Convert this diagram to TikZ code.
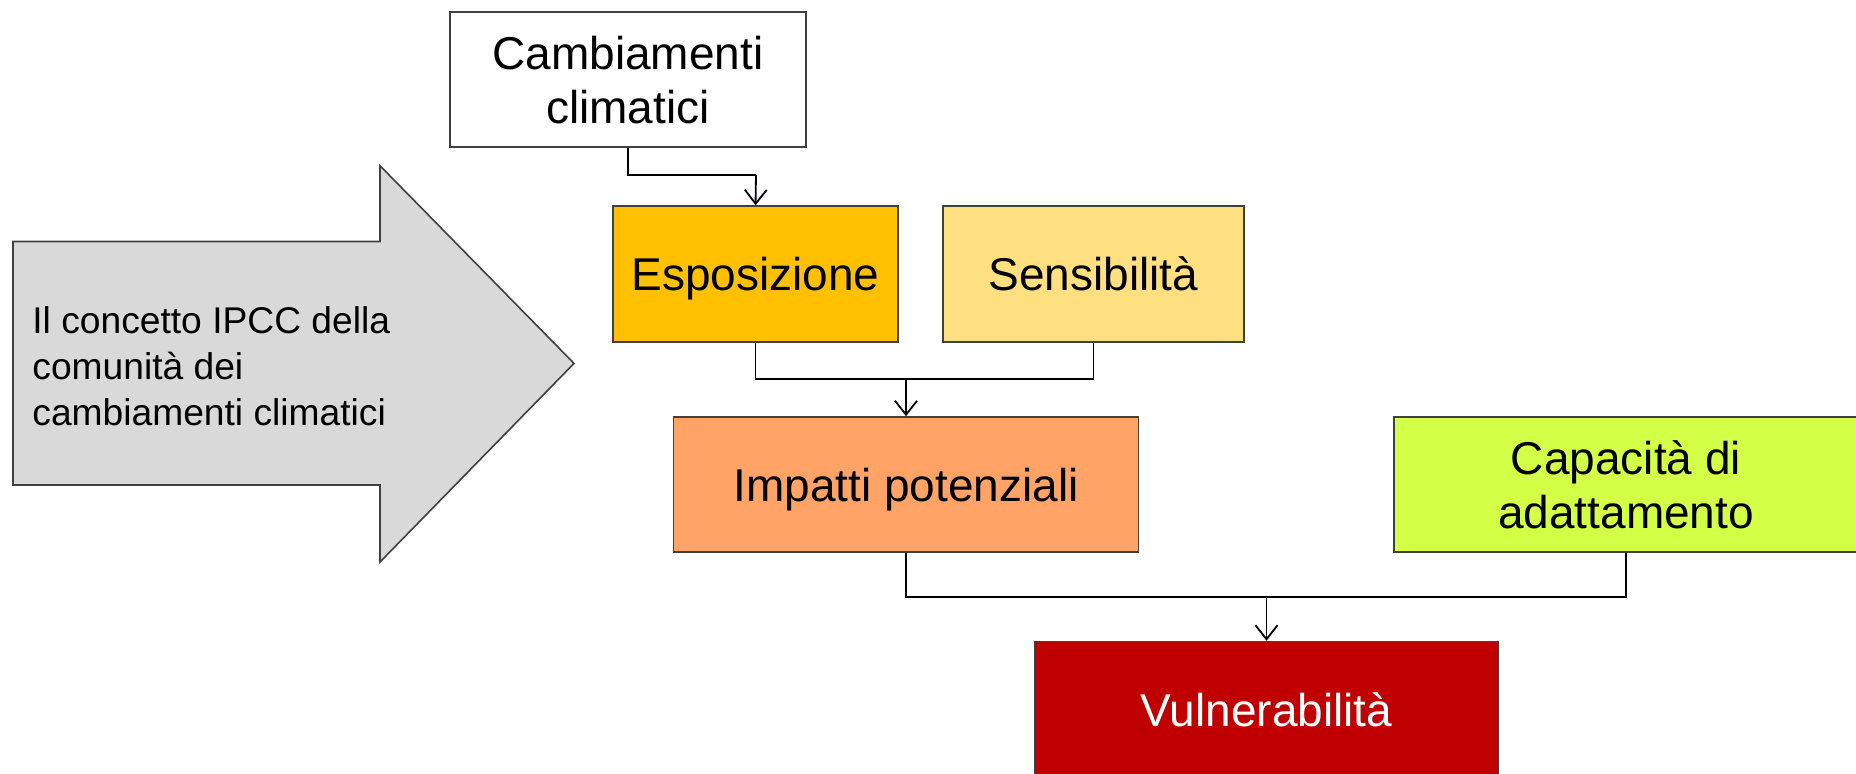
\documentclass[tikz,border=0pt]{standalone}
\usepackage{fontspec}
\setmainfont{Liberation Sans}
\usetikzlibrary{arrows.meta}
\definecolor{bordergray}{HTML}{404040}
\definecolor{espcol}{HTML}{FFC000}
\definecolor{sencol}{HTML}{FFE081}
\definecolor{impcol}{HTML}{FFA366}
\definecolor{capcol}{HTML}{D4FF47}
\definecolor{vulcol}{HTML}{C00000}
\definecolor{arrowgray}{HTML}{D9D9D9}
\tikzset{
  box/.style={draw=bordergray, line width=0.8pt, inner sep=0pt, align=center,
    text depth=0pt, font=\fontsize{23}{27}\selectfont},
  link/.style={draw=black, line width=0.9pt},
  linkarrow/.style={link, -{Straight Barb[length=7pt,width=11pt,line width=0.9pt]}}
}
\begin{document}
\begin{tikzpicture}[x=0.5pt,y=-0.5pt]
\useasboundingbox (0,0) rectangle (1856,773);
% big arrow
\draw[fill=arrowgray, draw=bordergray, line width=0.8pt]
  (13,241.5) -- (380,241.5) -- (380,165.7) -- (574,363.4) -- (380,562) -- (380,485) -- (13,485) -- cycle;
\node[anchor=west, align=left, inner sep=0pt, font=\fontsize{18.6}{23}\selectfont] (concept) at (32,366)
  {Il concetto IPCC della\\comunità dei\\cambiamenti climatici};
% boxes
\node[box, fill=white, minimum width=178pt, minimum height=67.5pt] (cc) at (628,79.5) {Cambiamenti\\climatici};
\node[box, fill=espcol, minimum width=142.5pt, minimum height=68pt] (esp) at (755.5,274) {Esposizione};
\node[box, fill=sencol, minimum width=150.5pt, minimum height=68pt] (sen) at (1093.5,274) {Sensibilità};
\node[box, fill=impcol, minimum width=232.5pt, minimum height=67.5pt] (imp) at (906,484.5) {Impatti potenziali};
\node[box, fill=capcol, minimum width=232pt, minimum height=67.5pt] (cap) at (1626,484.5) {Capacità di\\adattamento};
\node[box, fill=vulcol, text=white, minimum width=232pt, minimum height=68.5pt] (vul) at (1266.5,710) {Vulnerabilità};
% connectors
\coordinate (j1) at (756,175);
\draw[link] (cc.south) |- (j1);
\draw[linkarrow] (j1) -- (esp.north);
\coordinate (j2) at (906,379);
\draw[link] (esp.south) -- (esp.south |- j2) -- (sen.south |- j2) -- (sen.south);
\draw[linkarrow] (j2) -- (imp.north);
\coordinate (j3) at (1266.5,597);
\draw[link] (imp.south) -- (imp.south |- j3) -- (cap.south |- j3) -- (cap.south);
\draw[linkarrow] (j3) -- (vul.north);
\end{tikzpicture}
\end{document}
